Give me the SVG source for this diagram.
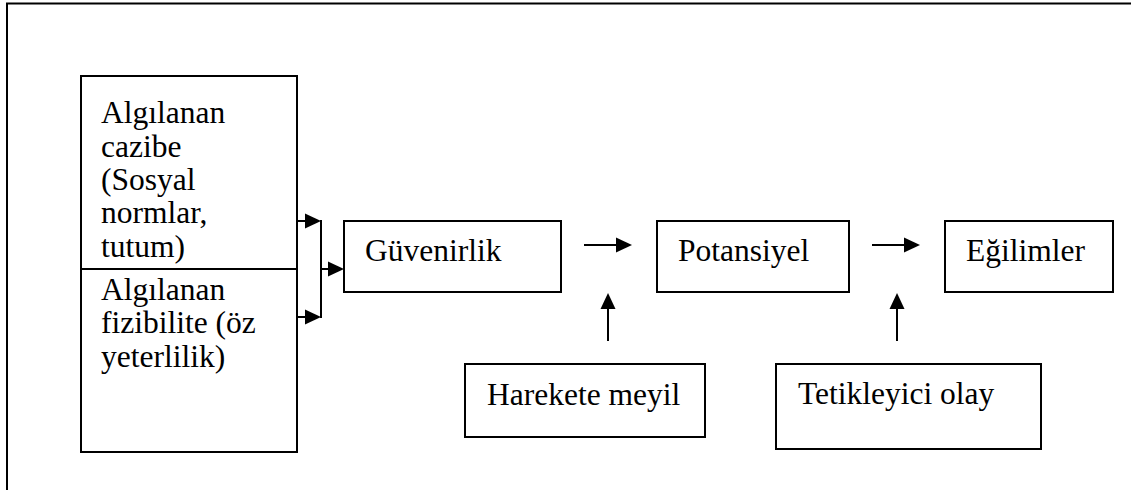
<svg xmlns="http://www.w3.org/2000/svg" width="1131" height="490" viewBox="0 0 1131 490">
<defs>
<path id="hr" d="M-16,-7.5 L0,0 L-16,7.5 Z"/>
<path id="hu" d="M-7.5,16 L0,0 L7.5,16 Z"/>
<style>
.box{fill:#fff;stroke:#000;stroke-width:2}
.t{font-family:"Liberation Serif","Times New Roman",serif;font-size:31.5px;fill:#000}
.c{fill:none;stroke:#000;stroke-width:2}
.h{fill:#000}
</style>
</defs>
<rect width="1131" height="490" fill="#fff"/>
<g id="frame">
<path d="M7,490 L7,3.5 L1131,3.5" fill="none" stroke="#000" stroke-width="2"/>
</g>
<g id="n-cazibe">
<rect class="box" x="81" y="76" width="216" height="193"/>
<text class="t" x="101" y="123">Algılanan</text>
<text class="t" x="101" y="157">cazibe</text>
<text class="t" x="101" y="190">(Sosyal</text>
<text class="t" x="101" y="223">normlar,</text>
<text class="t" x="101" y="257">tutum)</text>
</g>
<g id="n-fizibilite">
<rect class="box" x="81" y="269" width="216" height="183"/>
<text class="t" x="101" y="300">Algılanan</text>
<text class="t" x="101" y="333">fizibilite (öz</text>
<text class="t" x="101" y="367">yeterlilik)</text>
</g>
<g id="n-guvenirlik">
<rect class="box" x="344" y="221" width="217" height="71"/>
<text class="t" x="365" y="261">Güvenirlik</text>
</g>
<g id="n-potansiyel">
<rect class="box" x="657" y="221" width="192" height="71"/>
<text class="t" x="678" y="261">Potansiyel</text>
</g>
<g id="n-egilimler">
<rect class="box" x="945" y="221" width="168" height="71"/>
<text class="t" x="966" y="261">Eğilimler</text>
</g>
<g id="n-harekete">
<rect class="box" x="465" y="364" width="240" height="73"/>
<text class="t" x="487" y="405">Harekete meyil</text>
</g>
<g id="n-tetikleyici">
<rect class="box" x="776" y="364" width="265" height="85"/>
<text class="t" x="798" y="404">Tetikleyici olay</text>
</g>
<g id="connectors">
<line class="c" x1="297" y1="221" x2="306" y2="221"/>
<use href="#hr" class="h" x="321" y="221"/>
<line class="c" x1="297" y1="317" x2="306" y2="317"/>
<use href="#hr" class="h" x="321" y="317"/>
<line class="c" x1="321" y1="220" x2="321" y2="318"/>
<line class="c" x1="321" y1="269" x2="330" y2="269"/>
<use href="#hr" class="h" x="344" y="269"/>
<line class="c" x1="584" y1="245" x2="618" y2="245"/>
<use href="#hr" class="h" x="632" y="245"/>
<line class="c" x1="872" y1="245" x2="906" y2="245"/>
<use href="#hr" class="h" x="920" y="245"/>
<line class="c" x1="608" y1="341" x2="608" y2="307"/>
<use href="#hu" class="h" x="608" y="293"/>
<line class="c" x1="897" y1="341" x2="897" y2="307"/>
<use href="#hu" class="h" x="897" y="293"/>
</g>
</svg>
